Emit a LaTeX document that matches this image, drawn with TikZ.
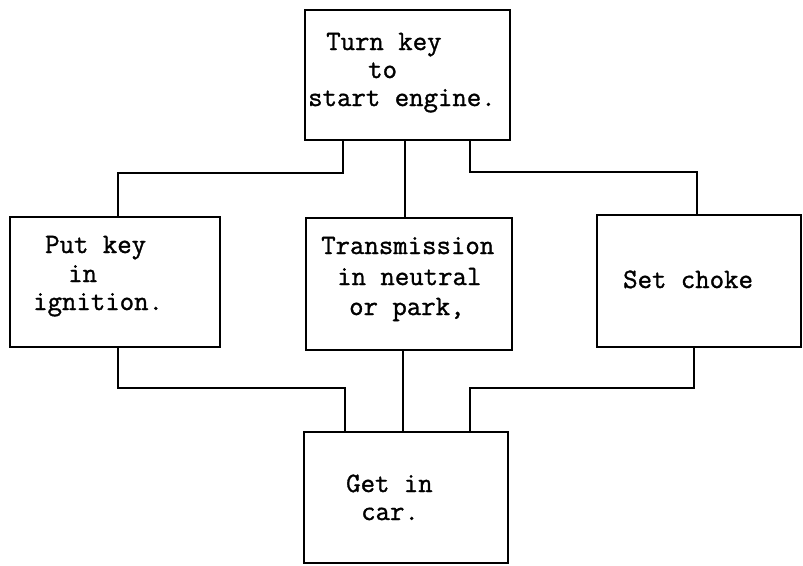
\documentclass[tikz,border=0pt]{standalone}
\usepackage{fontspec}
\newfontfamily\tw{Latin Modern Mono}[FakeBold=1.2]
\begin{document}
\begin{tikzpicture}[x=1pt,y=-1pt,
  stepbox/.style={draw=black,line width=2.4pt,rectangle,inner sep=0pt},
  conn/.style={draw=black,line width=2.4pt},
  txt/.style={anchor=base west,inner sep=0pt,font=\fontsize{28}{30}\selectfont\tw}]
\useasboundingbox (0,0) rectangle (803,565);
% boxes
\node[stepbox,minimum width=205,minimum height=130] (top) at (407.5,75) {};
\node[stepbox,minimum width=210,minimum height=130] (left) at (115,282) {};
\node[stepbox,minimum width=206,minimum height=132] (mid) at (409,284) {};
\node[stepbox,minimum width=204,minimum height=132] (right) at (699,281) {};
\node[stepbox,minimum width=204,minimum height=131] (bot) at (406,497.5) {};
% texts
\node[txt] (t1) at (326,50) {Turn key};
\node[txt] (t2) at (368,78) {to};
\node[txt] (t3) at (308,106) {start engine.};
\node[txt] (l1) at (45,253) {Put key};
\node[txt] (l2) at (68,282) {in};
\node[txt] (l3) at (33,310) {ignition.};
\node[txt] (m1) at (321,254) {Transmission};
\node[txt] (m2) at (337,285) {in neutral};
\node[txt] (m3) at (349,315) {or park,};
\node[txt] (r1) at (623,288) {Set choke};
\node[txt] (b1) at (346,492) {Get in};
\node[txt] (b2) at (361,520) {car.};
% connectors
\draw[conn] (343,0 |- top.south) -- (343,173) -- (118,173) -- (118,0 |- left.north);
\draw[conn] (405,0 |- top.south) -- (405,0 |- mid.north);
\draw[conn] (470,0 |- top.south) -- (470,172) -- (697,172) -- (697,0 |- right.north);
\draw[conn] (118,0 |- left.south) -- (118,388) -- (345,388) -- (345,0 |- bot.north);
\draw[conn] (403,0 |- mid.south) -- (403,0 |- bot.north);
\draw[conn] (694,0 |- right.south) -- (694,388) -- (470,388) -- (470,0 |- bot.north);
\end{tikzpicture}
\end{document}
